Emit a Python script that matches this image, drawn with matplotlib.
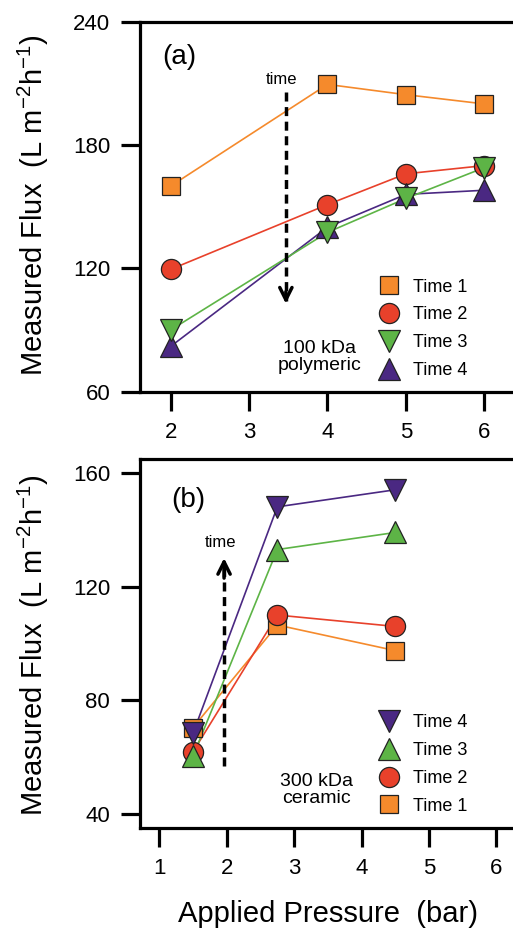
import matplotlib
matplotlib.use("Agg")
import matplotlib.pyplot as plt

plt.rcParams['font.family'] = ['Liberation Sans', 'DejaVu Sans']
plt.rcParams['mathtext.fontset'] = 'custom'
plt.rcParams['mathtext.rm'] = 'Liberation Sans'

# data, panel (a) 100 kDa polymeric
xa = [2, 4, 5, 6]
a_t1 = [160, 209.5, 204.5, 200]
a_t2 = [119.5, 151, 166, 170]
a_t3 = [90, 137.5, 154, 169]
a_t4 = [82, 140, 156, 158]

# data, panel (b) 300 kDa ceramic
xb = [1.5, 2.75, 4.5]
b_t1 = [70.5, 106.5, 97.5]
b_t2 = [62, 110, 106]
b_t3 = [60.5, 133, 139]
b_t4 = [68.5, 148, 154]

orange = '#F58A2C'
red = '#E8412B'
green = '#5DB446'
purple = '#4A2882'

fig = plt.figure(figsize=(5.13, 9.30), dpi=100)
axa = fig.add_axes([140/513, 1 - 391.7/930, 378/513, 370/930])
axb = fig.add_axes([140/513, 1 - 828.3/930, 378/513, 369/930])

def style(ax):
    for s in ['left', 'top', 'bottom']:
        ax.spines[s].set_linewidth(2.3)
    ax.spines['right'].set_visible(False)
    ax.tick_params(direction='out', length=14, width=2.3, labelsize=16, pad=7.5)

def series(ax, x, y, col, mk, ms, lab):
    ax.plot(x, y, color=col, lw=1.2, zorder=2)
    ax.plot(x, y, ls='none', marker=mk, ms=ms, mfc=col, mec='#222222', mew=0.9,
            zorder=3, label=lab)

leg_kw = dict(loc='center left', frameon=False, fontsize=13, handletextpad=0.8,
              labelspacing=0.6, borderpad=0, borderaxespad=0, handlelength=1.15)

# panel (a)
series(axa, xa, a_t1, orange, 's', 13, 'Time 1')
series(axa, xa, a_t2, red, 'o', 14.5, 'Time 2')
series(axa, xa, a_t4, purple, '^', 15.5, None)
series(axa, xa, a_t3, green, 'v', 15.5, 'Time 3')
axa.plot([], [], ls='none', marker='^', ms=15.5, mfc=purple, mec='#222222', mew=0.9, label='Time 4')
axa.set_xlim(1.61, 6.43)
axa.set_ylim(60, 240)
axa.set_xticks([2, 3, 4, 5, 6])
axa.set_yticks([60, 120, 180, 240])
style(axa)
axa.text(0.105, 0.905, '(a)', transform=axa.transAxes, fontsize=20, va='center', ha='center')
axa.plot([3.47, 3.47], [206, 104], ls=(0, (2.6, 1.6)), color='black', lw=2.5, zorder=4)
axa.annotate('', xy=(3.47, 101.5), xytext=(3.47, 110),
             arrowprops=dict(arrowstyle='->', lw=2.5, color='black', mutation_scale=22))
axa.text(3.42, 212, 'time', fontsize=12, ha='center', va='center')
axa.text(3.9, 77, '100 kDa\npolymeric', fontsize=14, ha='center', va='center', linespacing=1.0)
axa.legend(bbox_to_anchor=(0.63, 0.17), **leg_kw)

# panel (b)
series(axb, xb, b_t1, orange, 's', 13, 'Time 1')
series(axb, xb, b_t2, red, 'o', 14.5, 'Time 2')
series(axb, xb, b_t3, green, '^', 15.5, 'Time 3')
series(axb, xb, b_t4, purple, 'v', 15.5, 'Time 4')
axb.set_xlim(0.713, 6.32)
axb.set_ylim(35.1, 164.7)
axb.set_xticks([1, 2, 3, 4, 5, 6])
axb.set_yticks([40, 80, 120, 160])
style(axb)
axb.text(0.127, 0.89, '(b)', transform=axb.transAxes, fontsize=20, va='center', ha='center')
axb.plot([1.96, 1.96], [57, 128], ls=(0, (2.6, 1.6)), color='black', lw=2.5, zorder=4)
axb.annotate('', xy=(1.96, 131), xytext=(1.96, 122),
             arrowprops=dict(arrowstyle='->', lw=2.5, color='black', mutation_scale=22))
axb.text(1.9, 135.5, 'time', fontsize=12, ha='center', va='center')
axb.text(3.33, 48.5, '300 kDa\nceramic', fontsize=14, ha='center', va='center', linespacing=1.0)
h, l = axb.get_legend_handles_labels()
axb.legend(h[::-1], l[::-1], bbox_to_anchor=(0.63, 0.173), **leg_kw)

ylab = 'Measured Flux  (L m$^{-2}$h$^{-1}$)'
fig.text(33/513, 1 - 205/930, ylab, rotation=90, fontsize=21, ha='center', va='center')
fig.text(33/513, 1 - 645/930, ylab, rotation=90, fontsize=21, ha='center', va='center')
fig.text(328.5/513, 1 - 922/930, 'Applied Pressure  (bar)', fontsize=21, ha='center', va='baseline')

fig.savefig('out.png', dpi=100)
